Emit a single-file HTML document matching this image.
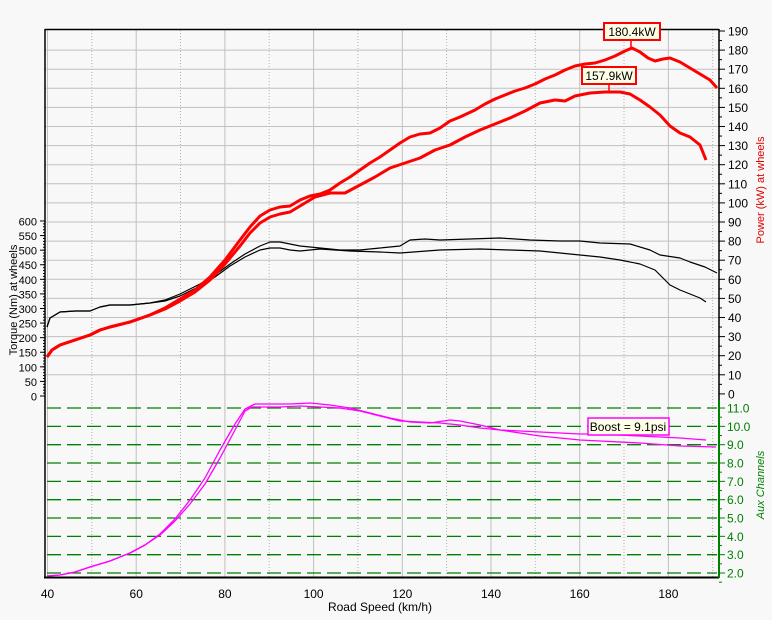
<!DOCTYPE html>
<html><head><meta charset="utf-8"><style>
body{margin:0;background:#f8f8f8;}
svg{display:block;font-family:"Liberation Sans",sans-serif;}
</style></head><body>
<svg width="772" height="620" viewBox="0 0 772 620" xmlns="http://www.w3.org/2000/svg">
<rect width="772" height="620" fill="#f8f8f8"/>
<!-- vertical grid -->
<g stroke="#c0c0c0" stroke-width="1">
<line x1="47.5" y1="30" x2="47.5" y2="577"/>
<line x1="136.2" y1="30" x2="136.2" y2="577"/>
<line x1="224.9" y1="30" x2="224.9" y2="577"/>
<line x1="313.6" y1="30" x2="313.6" y2="577"/>
<line x1="402.3" y1="30" x2="402.3" y2="577"/>
<line x1="491" y1="30" x2="491" y2="577"/>
<line x1="579.7" y1="30" x2="579.7" y2="577"/>
<line x1="668.4" y1="30" x2="668.4" y2="577"/>
</g>
<g stroke="#b0b0b0" stroke-width="1" stroke-dasharray="1,2">
<line x1="91.8" y1="30" x2="91.8" y2="577"/>
<line x1="180.5" y1="30" x2="180.5" y2="577"/>
<line x1="269.2" y1="30" x2="269.2" y2="577"/>
<line x1="357.9" y1="30" x2="357.9" y2="577"/>
<line x1="446.6" y1="30" x2="446.6" y2="577"/>
<line x1="535.3" y1="30" x2="535.3" y2="577"/>
<line x1="624" y1="30" x2="624" y2="577"/>
<line x1="712.7" y1="30" x2="712.7" y2="577"/>
</g>
<!-- horizontal grid (power) -->
<g stroke="#c0c0c0" stroke-width="1" id="hg"></g>
<!-- aux dashed -->
<g stroke="#008000" stroke-width="1.3" stroke-dasharray="14,6" id="ag"></g>
<!-- axes -->
<line x1="45" y1="29.5" x2="719" y2="29.5" stroke="#000" stroke-width="1.5"/>
<line x1="45" y1="29" x2="45" y2="578" stroke="#000" stroke-width="1.5"/>
<line x1="44" y1="577.5" x2="719" y2="577.5" stroke="#000" stroke-width="2"/>
<line x1="719" y1="29" x2="719" y2="400" stroke="#000" stroke-width="1.5"/>
<line x1="719" y1="400" x2="719" y2="578" stroke="#008000" stroke-width="2"/>
<g id="ticks"></g>
<!-- curves -->
<g fill="none" stroke-linejoin="round">
<polyline stroke="#000" stroke-width="1.2" points="47,327 50,318 60,312 75,311 90,311 100,307 110,305 130,305 150,303 165,300 180,294 200,284 215,275 230,264 245,254 260,246 270,242 280,242 290,244 300,246 320,248 340,250 360,250 380,248 400,246 410,240 425,239 440,240 470,239 500,238 530,240 560,241 580,241 600,243 630,244 650,250 660,255 680,258 690,262 705,267 717,273"/>
<polyline stroke="#000" stroke-width="1.2" points="47,327 50,318 60,312 75,311 90,311 100,307 110,305 130,305 150,303 165,301 180,296 200,286 215,277 230,266 245,257 260,250 270,248 280,248 290,250 300,251 320,249 350,251 380,252 400,253 440,250 480,249 510,250 540,251 570,254 600,257 620,260 640,264 655,270 670,285 680,290 690,294 700,298 706,302"/>
<polyline stroke="#ff0000" stroke-width="3" points="47,357 52,350 60,345 75,340 90,335 100,330 110,327 130,322 150,315 165,308 180,299 195,290 210,277 225,260 240,240 250,227 260,216 270,210 280,207 290,206 300,200 310,196 320,194 330,190 340,183 350,177 360,170 370,163 380,157 390,150 400,143 410,137 420,134 430,133 440,128 450,121 460,117 475,110 485,104 495,99 505,95 515,91 525,88 535,84 545,79 555,75 565,70 575,66 585,64 595,63 605,60 615,56 625,51 632,48 640,52 648,58 655,61 663,59 670,58 680,62 690,68 700,74 710,80 717,88"/>
<polyline stroke="#ff0000" stroke-width="3" points="47,357 52,350 60,345 75,340 90,335 100,330 110,327 130,322 150,315 165,309 180,301 195,292 210,280 225,264 240,246 250,233 260,223 270,217 280,214 290,212 300,206 315,197 330,193 345,193 360,185 375,177 390,168 405,163 420,158 435,150 450,145 465,137 480,130 495,124 510,118 525,111 540,103 555,100 565,101 575,96 590,93 605,92 620,92 630,94 640,100 650,107 660,115 670,126 680,133 690,137 700,145 706,160"/>
<polyline stroke="#ff00ff" stroke-width="1.3" points="47,576 60,575 75,572 90,567 110,561 130,553 145,545 160,535 175,521 190,504 205,484 220,458 235,430 245,411 252,407 260,407 280,407 300,406 320,407 340,408 360,411 380,416 400,421 420,422 440,423 460,425 480,428 500,430 520,431 540,432 560,433 580,434 600,434 640,436 680,438 706,440"/>
<polyline stroke="#ff00ff" stroke-width="1.3" points="47,576 60,575 75,572 90,567 110,561 130,553 145,545 160,534 175,519 190,500 205,478 220,450 235,424 245,409 255,404 270,404 290,404 310,403 330,405 350,408 370,413 390,418 410,422 430,423 450,420 460,421 480,425 500,430 520,433 540,436 560,438 580,440 600,441 640,443 680,446 716,447"/>
</g>
<!-- callouts -->
<line x1="631" y1="40" x2="631" y2="48" stroke="#f00" stroke-width="1.5"/>
<rect x="604" y="23" width="56" height="17" fill="#ffffe8" stroke="#f00" stroke-width="2"/>
<text x="632" y="36" font-size="12" text-anchor="middle">180.4kW</text>
<line x1="609" y1="84" x2="609" y2="92" stroke="#f00" stroke-width="1.5"/>
<rect x="582" y="67" width="54" height="17" fill="#ffffe8" stroke="#f00" stroke-width="2"/>
<text x="609" y="80" font-size="12" text-anchor="middle">157.9kW</text>
<rect x="588" y="418" width="81" height="17" fill="#ffffe8" stroke="#ff00ff" stroke-width="1.5"/>
<text x="628" y="431" font-size="12" text-anchor="middle">Boost = 9.1psi</text>
<!-- labels -->
<g font-size="12" text-anchor="middle">
<text x="47.5" y="598">40</text><text x="136.2" y="598">60</text><text x="224.9" y="598">80</text>
<text x="313.6" y="598">100</text><text x="402.3" y="598">120</text><text x="491" y="598">140</text>
<text x="579.7" y="598">160</text><text x="668.4" y="598">180</text>
<text x="380" y="611">Road Speed (km/h)</text>
</g>
<g id="labs"></g>
<text transform="translate(17,300) rotate(-90)" font-size="11" text-anchor="middle">Torque (Nm) at wheels</text>
<text transform="translate(764,190) rotate(-90)" font-size="11" text-anchor="middle" fill="#e00000">Power (kW) at wheels</text>
<text transform="translate(764,485) rotate(-90)" font-size="11" text-anchor="middle" fill="#008000" font-style="italic">Aux Channels</text>
<script>
var ns="http://www.w3.org/2000/svg";
function el(p,t,a,txt){var e=document.createElementNS(ns,t);for(var k in a)e.setAttribute(k,a[k]);if(txt!=null)e.textContent=txt;p.appendChild(e);return e;}
var hg=document.getElementById('hg'),ag=document.getElementById('ag'),tk=document.getElementById('ticks'),lb=document.getElementById('labs');
for(var i=0;i<=19;i++){var y=31+i*19.1;if(i>0&&i<19)el(hg,'line',{x1:45,x2:719,y1:y,y2:y});
el(tk,'line',{x1:719,x2:725,y1:y,y2:y,stroke:'#000'});
if(i<19){el(tk,'line',{x1:719,x2:722,y1:y+9.55,y2:y+9.55,stroke:'#000'});}
el(lb,'text',{x:728,y:y+4.5,'font-size':12},String(190-i*10));}
for(var v=2;v<=11;v++){var y=573-(v-2)*18.33;el(ag,'line',{x1:47,x2:717,y1:y,y2:y});
el(tk,'line',{x1:719,x2:725,y1:y,y2:y,stroke:'#008000'});
el(tk,'line',{x1:719,x2:722,y1:y+9.17,y2:y+9.17,stroke:'#008000'});
el(lb,'text',{x:727,y:y+4.5,'font-size':12,fill:'#008000'},v.toFixed(1));}
for(var t=0;t<=600;t+=50){var y=396-t*0.2917;el(lb,'text',{x:37,y:y+4.5,'font-size':11,'text-anchor':'end'},String(t));
el(tk,'line',{x1:40,x2:45,y1:y,y2:y,stroke:'#000'});}
for(var t=0;t<=600;t+=10){var y=396-t*0.2917;el(tk,'line',{x1:43,x2:45,y1:y,y2:y,stroke:'#000'});}
</script>
</svg>
</body></html>
